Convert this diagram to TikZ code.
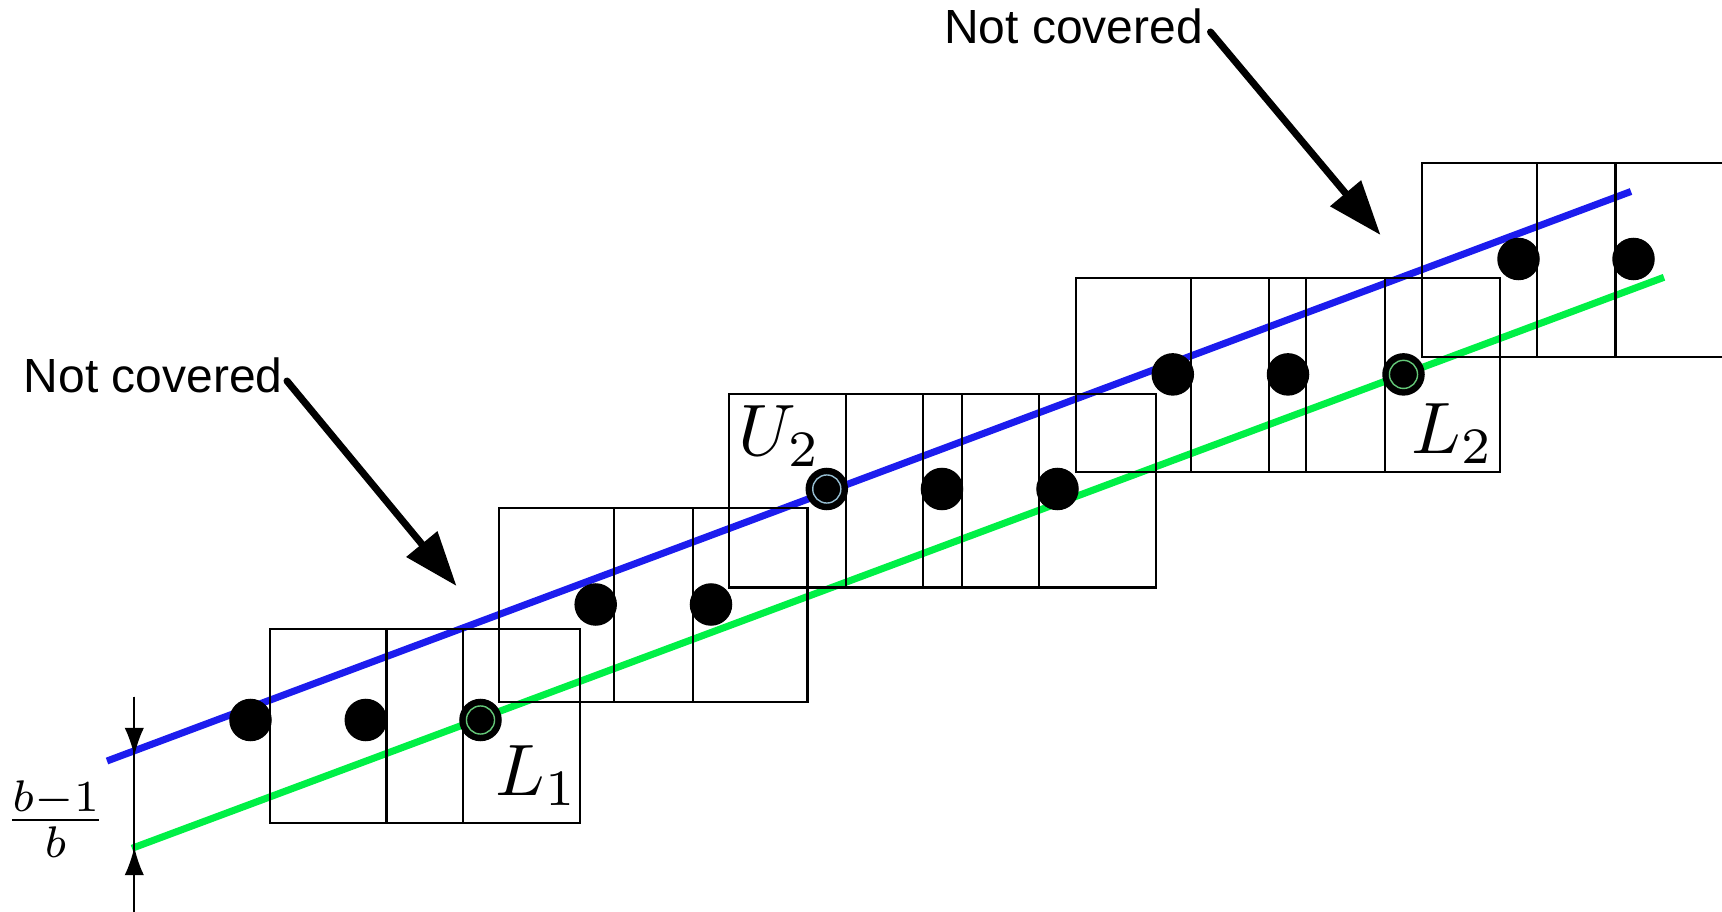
\documentclass[tikz,border=0pt]{standalone}
\usepackage{fontspec}
\newfontfamily\sansfnt{Liberation Sans}
\usetikzlibrary{arrows.meta}
\definecolor{upblue}{RGB}{28,28,238}
\definecolor{lowgreen}{RGB}{0,240,70}
\definecolor{ringblue}{RGB}{150,190,210}
\definecolor{ringgreen}{RGB}{100,200,120}
\begin{document}
\begin{tikzpicture}[x=0.02cm,y=-0.02cm,
  box/.style={line width=1.2pt,draw=black},
  upline/.style={line width=4pt,draw=upblue},
  lowline/.style={line width=4pt,draw=lowgreen},
  dot/.style={circle,fill=black,inner sep=0pt,minimum size=24.2pt},
  ringb/.style={draw=ringblue,line width=0.8pt},
  ringg/.style={draw=ringgreen,line width=0.8pt},
  dim/.style={line width=1.2pt,draw=black},
  dimtip/.style={dim,-{Latex[length=16pt,width=11pt]}},
  bigarrow/.style={line width=4pt,line cap=round,-{Triangle[length=31pt,width=22pt]}},
  nc/.style={font=\sansfnt\fontsize{27.3}{33}\selectfont,inner sep=0pt,anchor=base west},
  lab/.style={font=\fontsize{10}{12}\selectfont,scale=4.15,inner sep=0pt,anchor=base west}]
\useasboundingbox (0,0) rectangle (1722,912);
\clip (0,0) rectangle (1722,912);

% bounding lines
\coordinate (b0) at (107,761);
\coordinate (b1) at (1631,191.5);
\coordinate (g0) at (132,848.3);
\coordinate (g1) at (1664,277.3);
\draw[upline] (b0) -- (b1);
\draw[lowline] (g0) -- (g1);

% squares
\foreach \x/\y in {269.8/629.3, 386.5/629.3, 499.3/508.3, 614/508.3,
  729.3/394, 845.7/394, 962.2/394, 1075.7/278.3, 1191.4/278.3, 1306.3/278.3,
  1422/163.3, 1537.3/163.3}
  \draw[box] (\x,\y) rectangle ++(193.5,193.5);

% dots
\foreach \i/\x/\y in {0/250.5/720, 1/365.8/720, 2/480.5/720, 3/595.7/604.5, 4/711/604.5,
  5/826.8/489, 6/942/489, 7/1057.5/489, 8/1172.8/374.4, 9/1288/374.4,
  10/1403.5/374.4, 11/1518.5/259, 12/1633.5/259}
  \node[dot] (d\i) at (\x,\y) {};
\draw[ringg] (d2.center) circle[radius=8pt];
\draw[ringb] (d5.center) circle[radius=8pt];
\draw[ringg] (d10.center) circle[radius=8pt];

% labels
\node[lab] (L1) at (494,795) {$L_1$};
\node[lab] (U2) at (737,456) {$U_2$};
\node[lab] (L2) at (1410,453) {$L_2$};

% dimension
\coordinate (vt) at (134.3,696.7);
\coordinate (vb) at (134.3,915);
\coordinate (at) at (134.3,756);
\coordinate (ab) at (134.3,847);
\draw[dim] (vt) -- (vb);
\draw[dimtip] (vt) -- (at);
\draw[dimtip] (vb) -- (ab);
\node[font=\fontsize{10}{12}\selectfont,scale=3.6,inner sep=0pt,anchor=base] (frac) at (55.5,836) {$\frac{b-1}{b}$};

% not covered
\node[nc] (nc1) at (23.5,392.7) {Not covered};
\node[nc] (nc2) at (944,43.3) {Not covered};
\coordinate (a1s) at (287,381);
\coordinate (a1e) at (456.5,586);
\coordinate (a2s) at (1210.5,32);
\coordinate (a2e) at (1380.5,235);
\draw[bigarrow] (a1s) -- (a1e);
\draw[bigarrow] (a2s) -- (a2e);
\end{tikzpicture}
\end{document}
